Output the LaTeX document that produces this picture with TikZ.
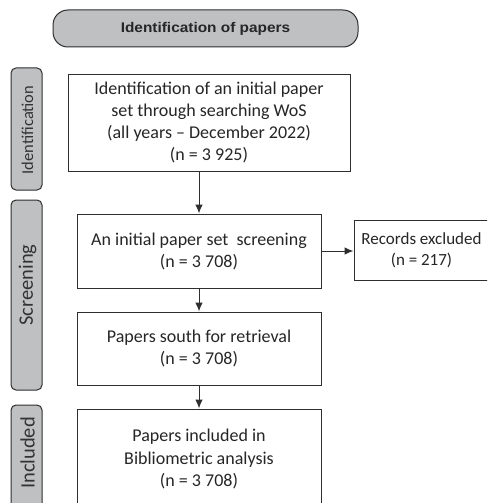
\documentclass[tikz,border=0pt]{standalone}
\usepackage{fontspec}
\setmainfont{Carlito}
\newfontfamily\hdrfont{Liberation Sans}
\usetikzlibrary{arrows.meta}
\definecolor{sidegray}{HTML}{BEC0C1}
\definecolor{linegray}{HTML}{2E2E2E}
\tikzset{
  flowbox/.style={draw=linegray, line width=1pt, fill=white, align=center, inner sep=0pt,
    font=\fontsize{18}{22}\selectfont, text=black!85},
  sidebox/.style={draw=linegray, line width=1pt, fill=sidegray, rounded corners=5pt, inner sep=0pt},
  sidelabel/.style={rotate=90, text=black!80, inner sep=0pt},
  flowarrow/.style={draw=linegray, line width=1pt, -{Latex[length=9pt,width=7.5pt]}}
}
\begin{document}
\begin{tikzpicture}[x=1pt,y=-1pt]
\useasboundingbox (0,0) rectangle (487,503);
\clip (0,0) rectangle (487,503);
% header
\node[draw=linegray, line width=1pt, fill=sidegray, rounded corners=15pt,
  minimum width=305pt, minimum height=37pt, inner sep=0pt,
  font=\hdrfont\bfseries\fontsize{14}{16}\selectfont, text=black!85] (hdr) at (205.5,28.5)
  {\scalebox{1.1}[1]{Identification of papers}};
% side boxes
\node[sidebox, minimum width=31pt, minimum height=122pt] (sid) at (26.5,129) {};
\node[sidelabel, font=\fontsize{16.5}{18}\selectfont] (sidt) at (27.5,130) {Identification};
\node[sidebox, minimum width=31pt, minimum height=190pt] (ssc) at (26.5,295) {};
\node[sidelabel, font=\fontsize{20.5}{22}\selectfont] (ssct) at (27.5,285) {Screening};
\node[sidebox, minimum width=31pt, minimum height=130pt] (sin) at (26.5,470) {};
\node[sidelabel, font=\fontsize{20.5}{22}\selectfont] (sint) at (27.5,453) {Included};
% flow boxes
\node[flowbox, minimum width=282pt, minimum height=97pt] (b1) at (209,122.5)
  {Identification of an initial paper\\set through searching WoS\\(all years -- December 2022)\\(n = 3 925)};
\node[flowbox, minimum width=244pt, minimum height=74pt] (b2) at (199,251)
  {An initial paper set\ \ screening\\(n = 3 708)};
\node[flowbox, minimum width=142pt, minimum height=60pt] (ex) at (425,250) {};
\node[align=center, font=\fontsize{17}{21}\selectfont, text=black!85, inner sep=0pt] (ext) at (421.5,250)
  {Records excluded\\(n = 217)};
\node[flowbox, minimum width=244pt, minimum height=73pt] (b3) at (199,348.5)
  {Papers south for retrieval\\(n = 3 708)};
\node[flowbox, minimum width=244pt, minimum height=112pt] (b4) at (199,465) {};
\node[align=center, font=\fontsize{18}{22.5}\selectfont, text=black!85, inner sep=0pt] (b4t) at (199,459)
  {Papers included in\\Bibliometric analysis\\(n = 3 708)};
% arrows
\draw[flowarrow] (b1.south -| b2.north) -- (b2.north);
\draw[flowarrow] (b2.east) -- (ex.west |- b2.east);
\draw[flowarrow] (b2.south) -- (b3.north);
\draw[flowarrow] (b3.south) -- (b4.north);
\end{tikzpicture}
\end{document}
